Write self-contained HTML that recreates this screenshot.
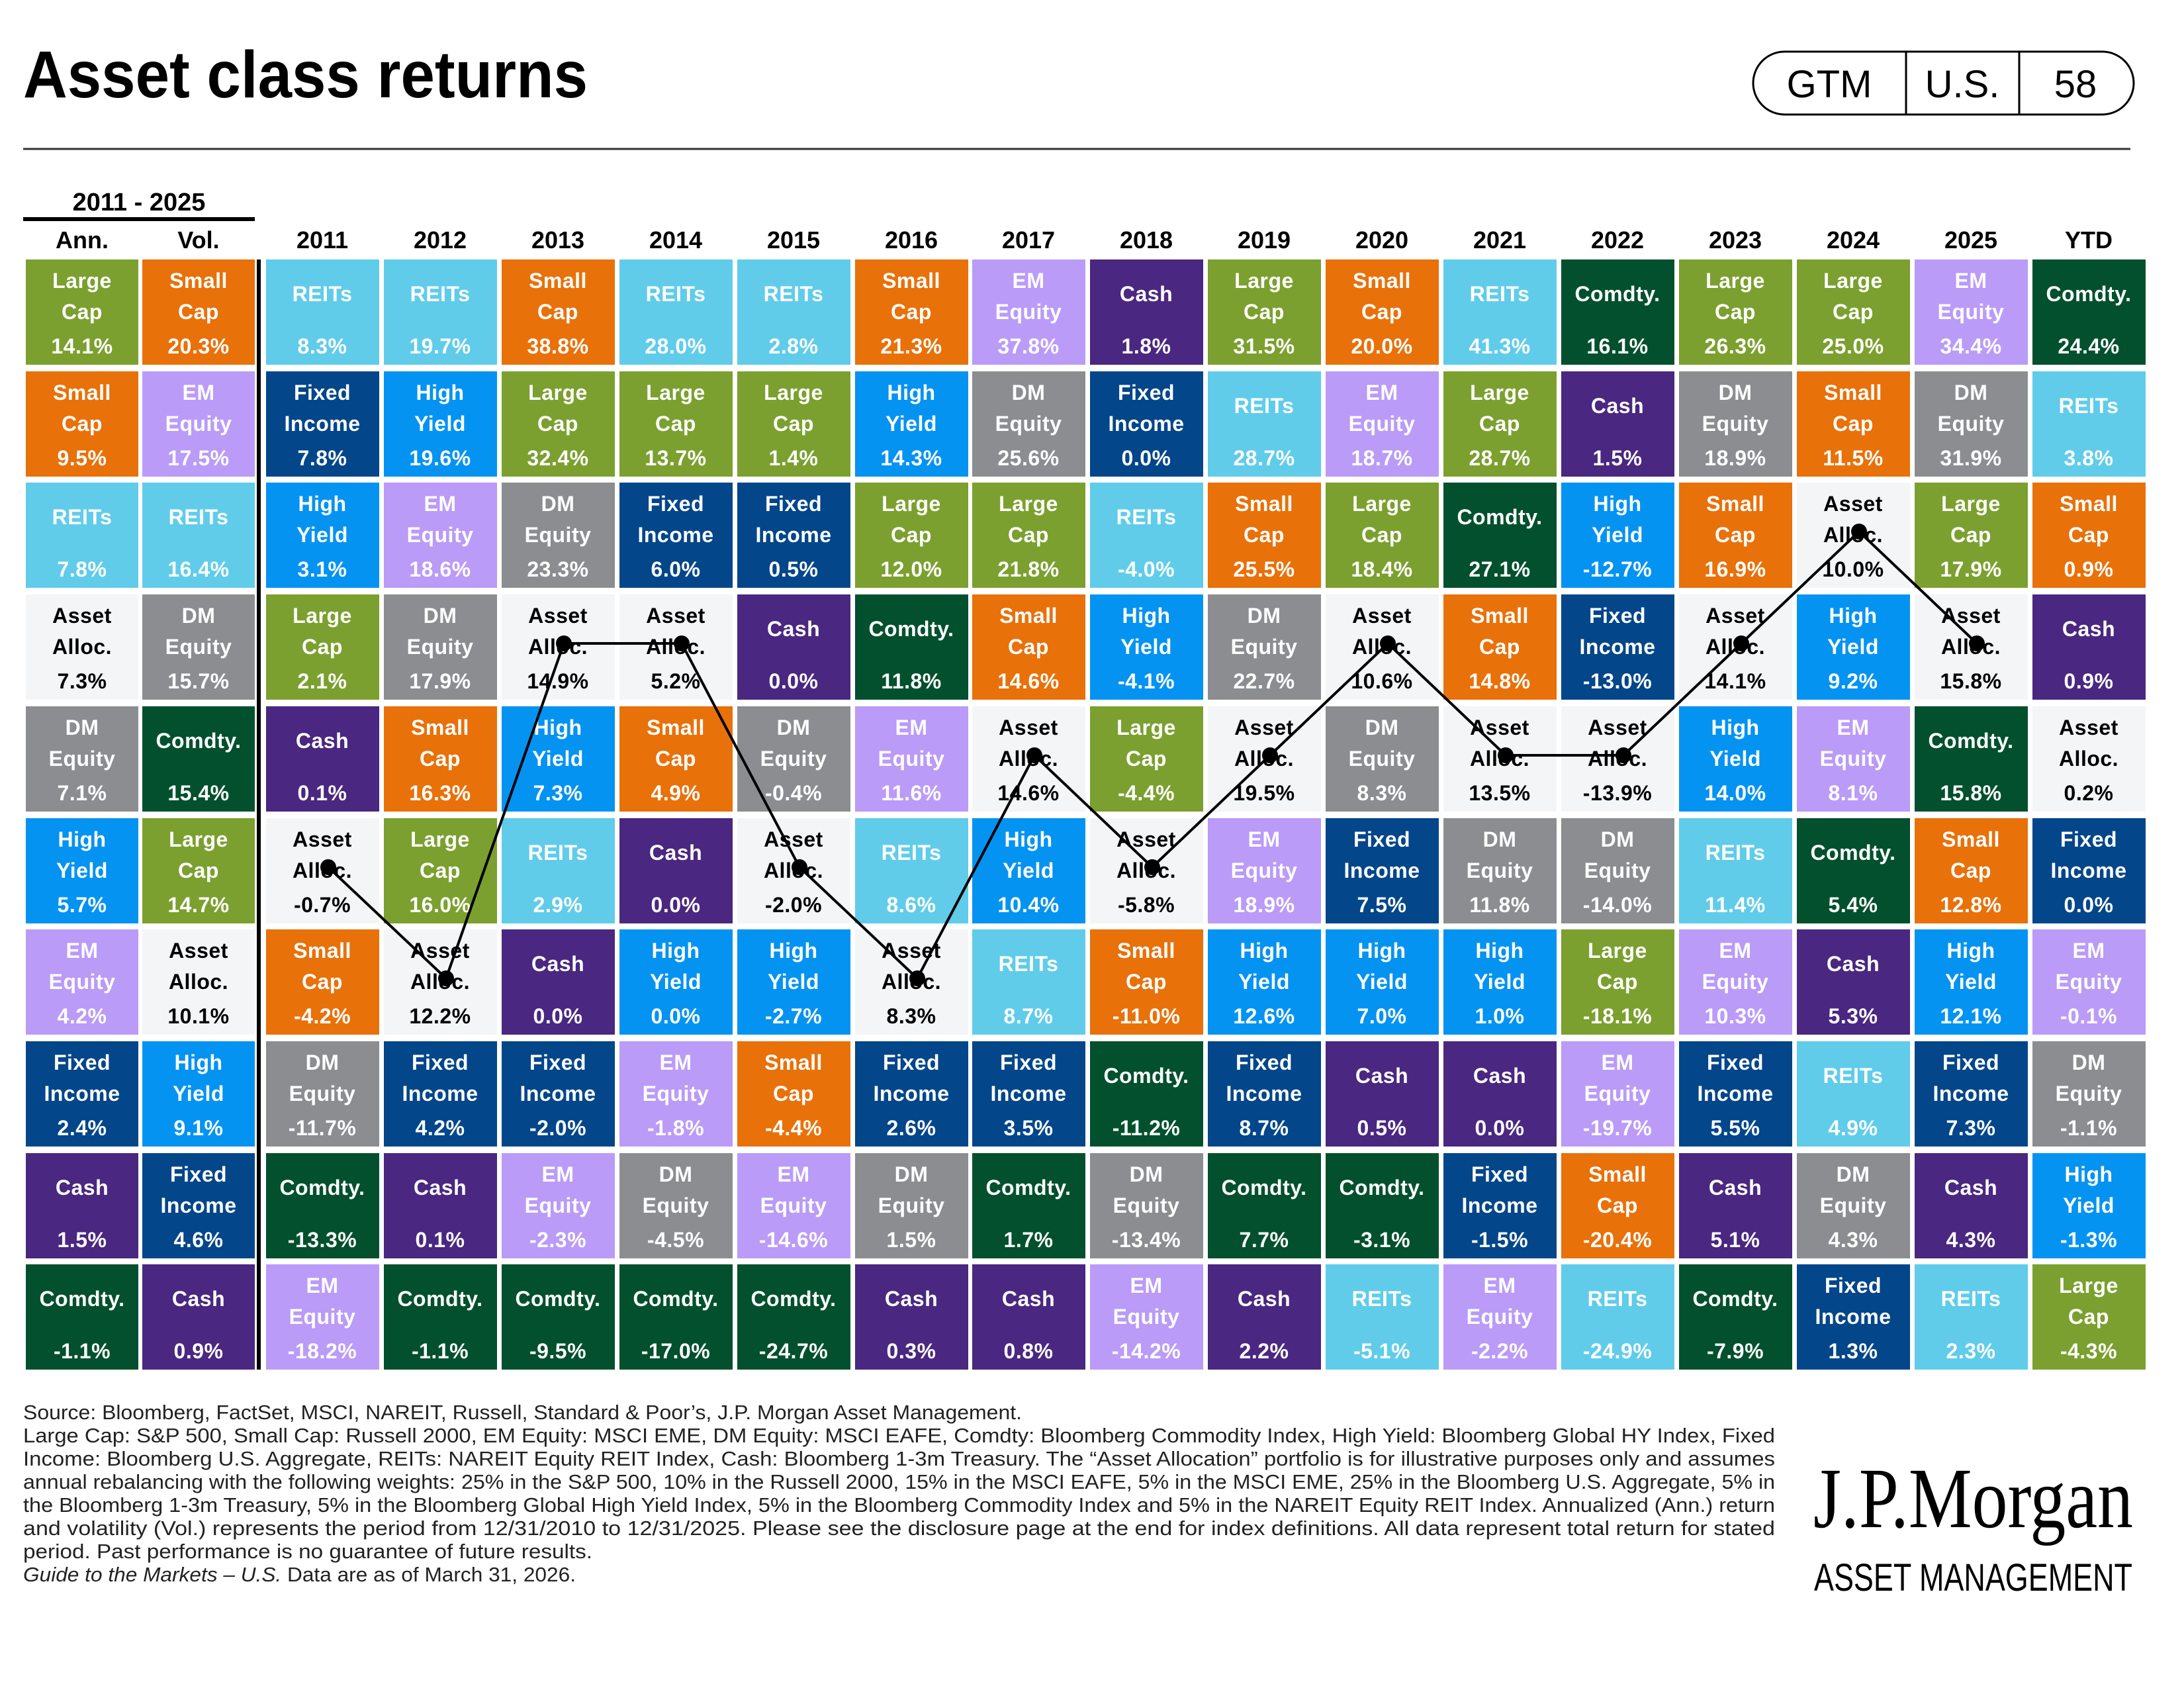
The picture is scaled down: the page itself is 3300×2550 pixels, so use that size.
<!DOCTYPE html>
<html><head><meta charset="utf-8"><style>
html,body{margin:0;padding:0;background:#fff;}
svg{display:block;}
.c text{font-family:"Liberation Sans",Arial,sans-serif;font-weight:bold;font-size:32px;text-anchor:middle;fill:#fff;letter-spacing:0.5px;}
.aa text{fill:#000;}
.lc rect{fill:#7BA02F}.sc rect{fill:#E8710A}.re rect{fill:#60CCEA}.em rect{fill:#BA9BF7}.dm rect{fill:#8B8D90}
.fi rect{fill:#03468A}.hy rect{fill:#0593F2}.ca rect{fill:#4A2780}.co rect{fill:#02502E}.aa rect{fill:#F4F5F7}
.hd{font-family:"Liberation Sans",Arial,sans-serif;font-weight:bold;font-size:36px;text-anchor:middle;fill:#000;}
.fn{font-family:"Liberation Sans",Arial,sans-serif;font-size:31px;fill:#222;}
</style></head><body>
<svg width="3300" height="2550" viewBox="0 0 3300 2550" xmlns="http://www.w3.org/2000/svg">
<rect width="3300" height="2550" fill="#fff"/>
<text x="35" y="147" font-family="Liberation Sans,Arial,sans-serif" font-weight="bold" font-size="100" textLength="853" lengthAdjust="spacingAndGlyphs">Asset class returns</text>
<line x1="35" y1="225" x2="3219" y2="225" stroke="#333" stroke-width="3"/>
<rect x="2649" y="78" width="575" height="95" rx="47.5" fill="none" stroke="#000" stroke-width="3"/>
<line x1="2880" y1="78" x2="2880" y2="173" stroke="#000" stroke-width="3"/>
<line x1="3051" y1="78" x2="3051" y2="173" stroke="#000" stroke-width="3"/>
<g font-family="Liberation Sans,Arial,sans-serif" font-size="58" text-anchor="middle">
<text x="2764" y="147">GTM</text><text x="2965" y="147">U.S.</text><text x="3136" y="147">58</text></g>
<text x="210" y="318" class="hd" style="font-size:38px">2011 - 2025</text>
<rect x="35" y="328" width="350" height="6" fill="#000"/>
<g class="hd">
<text x="124" y="375">Ann.</text><text x="300" y="375">Vol.</text>
<text x="487" y="375">2011</text><text x="665" y="375">2012</text><text x="843" y="375">2013</text><text x="1021" y="375">2014</text>
<text x="1199" y="375">2015</text><text x="1377" y="375">2016</text><text x="1554" y="375">2017</text><text x="1732" y="375">2018</text>
<text x="1910" y="375">2019</text><text x="2088" y="375">2020</text><text x="2266" y="375">2021</text><text x="2444" y="375">2022</text>
<text x="2622" y="375">2023</text><text x="2800" y="375">2024</text><text x="2978" y="375">2025</text><text x="3156" y="375">YTD</text>
</g>
<rect x="388" y="392" width="6" height="1677" fill="#000"/>

<g class="c lc" transform="translate(39,392)"><rect width="170" height="159"/><text x="85" y="43">Large</text><text x="85" y="90">Cap</text><text x="85" y="142">14.1%</text></g>
<g class="c sc" transform="translate(39,561)"><rect width="170" height="159"/><text x="85" y="43">Small</text><text x="85" y="90">Cap</text><text x="85" y="142">9.5%</text></g>
<g class="c re" transform="translate(39,729)"><rect width="170" height="159"/><text x="85" y="63">REITs</text><text x="85" y="142">7.8%</text></g>
<g class="c aa" transform="translate(39,898)"><rect width="170" height="159"/><text x="85" y="43">Asset</text><text x="85" y="90">Alloc.</text><text x="85" y="142">7.3%</text></g>
<g class="c dm" transform="translate(39,1067)"><rect width="170" height="159"/><text x="85" y="43">DM</text><text x="85" y="90">Equity</text><text x="85" y="142">7.1%</text></g>
<g class="c hy" transform="translate(39,1236)"><rect width="170" height="159"/><text x="85" y="43">High</text><text x="85" y="90">Yield</text><text x="85" y="142">5.7%</text></g>
<g class="c em" transform="translate(39,1404)"><rect width="170" height="159"/><text x="85" y="43">EM</text><text x="85" y="90">Equity</text><text x="85" y="142">4.2%</text></g>
<g class="c fi" transform="translate(39,1573)"><rect width="170" height="159"/><text x="85" y="43">Fixed</text><text x="85" y="90">Income</text><text x="85" y="142">2.4%</text></g>
<g class="c ca" transform="translate(39,1742)"><rect width="170" height="159"/><text x="85" y="63">Cash</text><text x="85" y="142">1.5%</text></g>
<g class="c co" transform="translate(39,1910)"><rect width="170" height="159"/><text x="85" y="63">Comdty.</text><text x="85" y="142">-1.1%</text></g>

<g class="c sc" transform="translate(215,392)"><rect width="170" height="159"/><text x="85" y="43">Small</text><text x="85" y="90">Cap</text><text x="85" y="142">20.3%</text></g>
<g class="c em" transform="translate(215,561)"><rect width="170" height="159"/><text x="85" y="43">EM</text><text x="85" y="90">Equity</text><text x="85" y="142">17.5%</text></g>
<g class="c re" transform="translate(215,729)"><rect width="170" height="159"/><text x="85" y="63">REITs</text><text x="85" y="142">16.4%</text></g>
<g class="c dm" transform="translate(215,898)"><rect width="170" height="159"/><text x="85" y="43">DM</text><text x="85" y="90">Equity</text><text x="85" y="142">15.7%</text></g>
<g class="c co" transform="translate(215,1067)"><rect width="170" height="159"/><text x="85" y="63">Comdty.</text><text x="85" y="142">15.4%</text></g>
<g class="c lc" transform="translate(215,1236)"><rect width="170" height="159"/><text x="85" y="43">Large</text><text x="85" y="90">Cap</text><text x="85" y="142">14.7%</text></g>
<g class="c aa" transform="translate(215,1404)"><rect width="170" height="159"/><text x="85" y="43">Asset</text><text x="85" y="90">Alloc.</text><text x="85" y="142">10.1%</text></g>
<g class="c hy" transform="translate(215,1573)"><rect width="170" height="159"/><text x="85" y="43">High</text><text x="85" y="90">Yield</text><text x="85" y="142">9.1%</text></g>
<g class="c fi" transform="translate(215,1742)"><rect width="170" height="159"/><text x="85" y="43">Fixed</text><text x="85" y="90">Income</text><text x="85" y="142">4.6%</text></g>
<g class="c ca" transform="translate(215,1910)"><rect width="170" height="159"/><text x="85" y="63">Cash</text><text x="85" y="142">0.9%</text></g>

<g class="c re" transform="translate(402,392)"><rect width="171" height="159"/><text x="85" y="63">REITs</text><text x="85" y="142">8.3%</text></g>
<g class="c fi" transform="translate(402,561)"><rect width="171" height="159"/><text x="85" y="43">Fixed</text><text x="85" y="90">Income</text><text x="85" y="142">7.8%</text></g>
<g class="c hy" transform="translate(402,729)"><rect width="171" height="159"/><text x="85" y="43">High</text><text x="85" y="90">Yield</text><text x="85" y="142">3.1%</text></g>
<g class="c lc" transform="translate(402,898)"><rect width="171" height="159"/><text x="85" y="43">Large</text><text x="85" y="90">Cap</text><text x="85" y="142">2.1%</text></g>
<g class="c ca" transform="translate(402,1067)"><rect width="171" height="159"/><text x="85" y="63">Cash</text><text x="85" y="142">0.1%</text></g>
<g class="c aa" transform="translate(402,1236)"><rect width="171" height="159"/><text x="85" y="43">Asset</text><text x="85" y="90">Alloc.</text><text x="85" y="142">-0.7%</text></g>
<g class="c sc" transform="translate(402,1404)"><rect width="171" height="159"/><text x="85" y="43">Small</text><text x="85" y="90">Cap</text><text x="85" y="142">-4.2%</text></g>
<g class="c dm" transform="translate(402,1573)"><rect width="171" height="159"/><text x="85" y="43">DM</text><text x="85" y="90">Equity</text><text x="85" y="142">-11.7%</text></g>
<g class="c co" transform="translate(402,1742)"><rect width="171" height="159"/><text x="85" y="63">Comdty.</text><text x="85" y="142">-13.3%</text></g>
<g class="c em" transform="translate(402,1910)"><rect width="171" height="159"/><text x="85" y="43">EM</text><text x="85" y="90">Equity</text><text x="85" y="142">-18.2%</text></g>

<g class="c re" transform="translate(580,392)"><rect width="171" height="159"/><text x="85" y="63">REITs</text><text x="85" y="142">19.7%</text></g>
<g class="c hy" transform="translate(580,561)"><rect width="171" height="159"/><text x="85" y="43">High</text><text x="85" y="90">Yield</text><text x="85" y="142">19.6%</text></g>
<g class="c em" transform="translate(580,729)"><rect width="171" height="159"/><text x="85" y="43">EM</text><text x="85" y="90">Equity</text><text x="85" y="142">18.6%</text></g>
<g class="c dm" transform="translate(580,898)"><rect width="171" height="159"/><text x="85" y="43">DM</text><text x="85" y="90">Equity</text><text x="85" y="142">17.9%</text></g>
<g class="c sc" transform="translate(580,1067)"><rect width="171" height="159"/><text x="85" y="43">Small</text><text x="85" y="90">Cap</text><text x="85" y="142">16.3%</text></g>
<g class="c lc" transform="translate(580,1236)"><rect width="171" height="159"/><text x="85" y="43">Large</text><text x="85" y="90">Cap</text><text x="85" y="142">16.0%</text></g>
<g class="c aa" transform="translate(580,1404)"><rect width="171" height="159"/><text x="85" y="43">Asset</text><text x="85" y="90">Alloc.</text><text x="85" y="142">12.2%</text></g>
<g class="c fi" transform="translate(580,1573)"><rect width="171" height="159"/><text x="85" y="43">Fixed</text><text x="85" y="90">Income</text><text x="85" y="142">4.2%</text></g>
<g class="c ca" transform="translate(580,1742)"><rect width="171" height="159"/><text x="85" y="63">Cash</text><text x="85" y="142">0.1%</text></g>
<g class="c co" transform="translate(580,1910)"><rect width="171" height="159"/><text x="85" y="63">Comdty.</text><text x="85" y="142">-1.1%</text></g>

<g class="c sc" transform="translate(758,392)"><rect width="171" height="159"/><text x="85" y="43">Small</text><text x="85" y="90">Cap</text><text x="85" y="142">38.8%</text></g>
<g class="c lc" transform="translate(758,561)"><rect width="171" height="159"/><text x="85" y="43">Large</text><text x="85" y="90">Cap</text><text x="85" y="142">32.4%</text></g>
<g class="c dm" transform="translate(758,729)"><rect width="171" height="159"/><text x="85" y="43">DM</text><text x="85" y="90">Equity</text><text x="85" y="142">23.3%</text></g>
<g class="c aa" transform="translate(758,898)"><rect width="171" height="159"/><text x="85" y="43">Asset</text><text x="85" y="90">Alloc.</text><text x="85" y="142">14.9%</text></g>
<g class="c hy" transform="translate(758,1067)"><rect width="171" height="159"/><text x="85" y="43">High</text><text x="85" y="90">Yield</text><text x="85" y="142">7.3%</text></g>
<g class="c re" transform="translate(758,1236)"><rect width="171" height="159"/><text x="85" y="63">REITs</text><text x="85" y="142">2.9%</text></g>
<g class="c ca" transform="translate(758,1404)"><rect width="171" height="159"/><text x="85" y="63">Cash</text><text x="85" y="142">0.0%</text></g>
<g class="c fi" transform="translate(758,1573)"><rect width="171" height="159"/><text x="85" y="43">Fixed</text><text x="85" y="90">Income</text><text x="85" y="142">-2.0%</text></g>
<g class="c em" transform="translate(758,1742)"><rect width="171" height="159"/><text x="85" y="43">EM</text><text x="85" y="90">Equity</text><text x="85" y="142">-2.3%</text></g>
<g class="c co" transform="translate(758,1910)"><rect width="171" height="159"/><text x="85" y="63">Comdty.</text><text x="85" y="142">-9.5%</text></g>

<g class="c re" transform="translate(936,392)"><rect width="171" height="159"/><text x="85" y="63">REITs</text><text x="85" y="142">28.0%</text></g>
<g class="c lc" transform="translate(936,561)"><rect width="171" height="159"/><text x="85" y="43">Large</text><text x="85" y="90">Cap</text><text x="85" y="142">13.7%</text></g>
<g class="c fi" transform="translate(936,729)"><rect width="171" height="159"/><text x="85" y="43">Fixed</text><text x="85" y="90">Income</text><text x="85" y="142">6.0%</text></g>
<g class="c aa" transform="translate(936,898)"><rect width="171" height="159"/><text x="85" y="43">Asset</text><text x="85" y="90">Alloc.</text><text x="85" y="142">5.2%</text></g>
<g class="c sc" transform="translate(936,1067)"><rect width="171" height="159"/><text x="85" y="43">Small</text><text x="85" y="90">Cap</text><text x="85" y="142">4.9%</text></g>
<g class="c ca" transform="translate(936,1236)"><rect width="171" height="159"/><text x="85" y="63">Cash</text><text x="85" y="142">0.0%</text></g>
<g class="c hy" transform="translate(936,1404)"><rect width="171" height="159"/><text x="85" y="43">High</text><text x="85" y="90">Yield</text><text x="85" y="142">0.0%</text></g>
<g class="c em" transform="translate(936,1573)"><rect width="171" height="159"/><text x="85" y="43">EM</text><text x="85" y="90">Equity</text><text x="85" y="142">-1.8%</text></g>
<g class="c dm" transform="translate(936,1742)"><rect width="171" height="159"/><text x="85" y="43">DM</text><text x="85" y="90">Equity</text><text x="85" y="142">-4.5%</text></g>
<g class="c co" transform="translate(936,1910)"><rect width="171" height="159"/><text x="85" y="63">Comdty.</text><text x="85" y="142">-17.0%</text></g>

<g class="c re" transform="translate(1114,392)"><rect width="171" height="159"/><text x="85" y="63">REITs</text><text x="85" y="142">2.8%</text></g>
<g class="c lc" transform="translate(1114,561)"><rect width="171" height="159"/><text x="85" y="43">Large</text><text x="85" y="90">Cap</text><text x="85" y="142">1.4%</text></g>
<g class="c fi" transform="translate(1114,729)"><rect width="171" height="159"/><text x="85" y="43">Fixed</text><text x="85" y="90">Income</text><text x="85" y="142">0.5%</text></g>
<g class="c ca" transform="translate(1114,898)"><rect width="171" height="159"/><text x="85" y="63">Cash</text><text x="85" y="142">0.0%</text></g>
<g class="c dm" transform="translate(1114,1067)"><rect width="171" height="159"/><text x="85" y="43">DM</text><text x="85" y="90">Equity</text><text x="85" y="142">-0.4%</text></g>
<g class="c aa" transform="translate(1114,1236)"><rect width="171" height="159"/><text x="85" y="43">Asset</text><text x="85" y="90">Alloc.</text><text x="85" y="142">-2.0%</text></g>
<g class="c hy" transform="translate(1114,1404)"><rect width="171" height="159"/><text x="85" y="43">High</text><text x="85" y="90">Yield</text><text x="85" y="142">-2.7%</text></g>
<g class="c sc" transform="translate(1114,1573)"><rect width="171" height="159"/><text x="85" y="43">Small</text><text x="85" y="90">Cap</text><text x="85" y="142">-4.4%</text></g>
<g class="c em" transform="translate(1114,1742)"><rect width="171" height="159"/><text x="85" y="43">EM</text><text x="85" y="90">Equity</text><text x="85" y="142">-14.6%</text></g>
<g class="c co" transform="translate(1114,1910)"><rect width="171" height="159"/><text x="85" y="63">Comdty.</text><text x="85" y="142">-24.7%</text></g>

<g class="c sc" transform="translate(1292,392)"><rect width="171" height="159"/><text x="85" y="43">Small</text><text x="85" y="90">Cap</text><text x="85" y="142">21.3%</text></g>
<g class="c hy" transform="translate(1292,561)"><rect width="171" height="159"/><text x="85" y="43">High</text><text x="85" y="90">Yield</text><text x="85" y="142">14.3%</text></g>
<g class="c lc" transform="translate(1292,729)"><rect width="171" height="159"/><text x="85" y="43">Large</text><text x="85" y="90">Cap</text><text x="85" y="142">12.0%</text></g>
<g class="c co" transform="translate(1292,898)"><rect width="171" height="159"/><text x="85" y="63">Comdty.</text><text x="85" y="142">11.8%</text></g>
<g class="c em" transform="translate(1292,1067)"><rect width="171" height="159"/><text x="85" y="43">EM</text><text x="85" y="90">Equity</text><text x="85" y="142">11.6%</text></g>
<g class="c re" transform="translate(1292,1236)"><rect width="171" height="159"/><text x="85" y="63">REITs</text><text x="85" y="142">8.6%</text></g>
<g class="c aa" transform="translate(1292,1404)"><rect width="171" height="159"/><text x="85" y="43">Asset</text><text x="85" y="90">Alloc.</text><text x="85" y="142">8.3%</text></g>
<g class="c fi" transform="translate(1292,1573)"><rect width="171" height="159"/><text x="85" y="43">Fixed</text><text x="85" y="90">Income</text><text x="85" y="142">2.6%</text></g>
<g class="c dm" transform="translate(1292,1742)"><rect width="171" height="159"/><text x="85" y="43">DM</text><text x="85" y="90">Equity</text><text x="85" y="142">1.5%</text></g>
<g class="c ca" transform="translate(1292,1910)"><rect width="171" height="159"/><text x="85" y="63">Cash</text><text x="85" y="142">0.3%</text></g>

<g class="c em" transform="translate(1469,392)"><rect width="171" height="159"/><text x="85" y="43">EM</text><text x="85" y="90">Equity</text><text x="85" y="142">37.8%</text></g>
<g class="c dm" transform="translate(1469,561)"><rect width="171" height="159"/><text x="85" y="43">DM</text><text x="85" y="90">Equity</text><text x="85" y="142">25.6%</text></g>
<g class="c lc" transform="translate(1469,729)"><rect width="171" height="159"/><text x="85" y="43">Large</text><text x="85" y="90">Cap</text><text x="85" y="142">21.8%</text></g>
<g class="c sc" transform="translate(1469,898)"><rect width="171" height="159"/><text x="85" y="43">Small</text><text x="85" y="90">Cap</text><text x="85" y="142">14.6%</text></g>
<g class="c aa" transform="translate(1469,1067)"><rect width="171" height="159"/><text x="85" y="43">Asset</text><text x="85" y="90">Alloc.</text><text x="85" y="142">14.6%</text></g>
<g class="c hy" transform="translate(1469,1236)"><rect width="171" height="159"/><text x="85" y="43">High</text><text x="85" y="90">Yield</text><text x="85" y="142">10.4%</text></g>
<g class="c re" transform="translate(1469,1404)"><rect width="171" height="159"/><text x="85" y="63">REITs</text><text x="85" y="142">8.7%</text></g>
<g class="c fi" transform="translate(1469,1573)"><rect width="171" height="159"/><text x="85" y="43">Fixed</text><text x="85" y="90">Income</text><text x="85" y="142">3.5%</text></g>
<g class="c co" transform="translate(1469,1742)"><rect width="171" height="159"/><text x="85" y="63">Comdty.</text><text x="85" y="142">1.7%</text></g>
<g class="c ca" transform="translate(1469,1910)"><rect width="171" height="159"/><text x="85" y="63">Cash</text><text x="85" y="142">0.8%</text></g>

<g class="c ca" transform="translate(1647,392)"><rect width="171" height="159"/><text x="85" y="63">Cash</text><text x="85" y="142">1.8%</text></g>
<g class="c fi" transform="translate(1647,561)"><rect width="171" height="159"/><text x="85" y="43">Fixed</text><text x="85" y="90">Income</text><text x="85" y="142">0.0%</text></g>
<g class="c re" transform="translate(1647,729)"><rect width="171" height="159"/><text x="85" y="63">REITs</text><text x="85" y="142">-4.0%</text></g>
<g class="c hy" transform="translate(1647,898)"><rect width="171" height="159"/><text x="85" y="43">High</text><text x="85" y="90">Yield</text><text x="85" y="142">-4.1%</text></g>
<g class="c lc" transform="translate(1647,1067)"><rect width="171" height="159"/><text x="85" y="43">Large</text><text x="85" y="90">Cap</text><text x="85" y="142">-4.4%</text></g>
<g class="c aa" transform="translate(1647,1236)"><rect width="171" height="159"/><text x="85" y="43">Asset</text><text x="85" y="90">Alloc.</text><text x="85" y="142">-5.8%</text></g>
<g class="c sc" transform="translate(1647,1404)"><rect width="171" height="159"/><text x="85" y="43">Small</text><text x="85" y="90">Cap</text><text x="85" y="142">-11.0%</text></g>
<g class="c co" transform="translate(1647,1573)"><rect width="171" height="159"/><text x="85" y="63">Comdty.</text><text x="85" y="142">-11.2%</text></g>
<g class="c dm" transform="translate(1647,1742)"><rect width="171" height="159"/><text x="85" y="43">DM</text><text x="85" y="90">Equity</text><text x="85" y="142">-13.4%</text></g>
<g class="c em" transform="translate(1647,1910)"><rect width="171" height="159"/><text x="85" y="43">EM</text><text x="85" y="90">Equity</text><text x="85" y="142">-14.2%</text></g>

<g class="c lc" transform="translate(1825,392)"><rect width="171" height="159"/><text x="85" y="43">Large</text><text x="85" y="90">Cap</text><text x="85" y="142">31.5%</text></g>
<g class="c re" transform="translate(1825,561)"><rect width="171" height="159"/><text x="85" y="63">REITs</text><text x="85" y="142">28.7%</text></g>
<g class="c sc" transform="translate(1825,729)"><rect width="171" height="159"/><text x="85" y="43">Small</text><text x="85" y="90">Cap</text><text x="85" y="142">25.5%</text></g>
<g class="c dm" transform="translate(1825,898)"><rect width="171" height="159"/><text x="85" y="43">DM</text><text x="85" y="90">Equity</text><text x="85" y="142">22.7%</text></g>
<g class="c aa" transform="translate(1825,1067)"><rect width="171" height="159"/><text x="85" y="43">Asset</text><text x="85" y="90">Alloc.</text><text x="85" y="142">19.5%</text></g>
<g class="c em" transform="translate(1825,1236)"><rect width="171" height="159"/><text x="85" y="43">EM</text><text x="85" y="90">Equity</text><text x="85" y="142">18.9%</text></g>
<g class="c hy" transform="translate(1825,1404)"><rect width="171" height="159"/><text x="85" y="43">High</text><text x="85" y="90">Yield</text><text x="85" y="142">12.6%</text></g>
<g class="c fi" transform="translate(1825,1573)"><rect width="171" height="159"/><text x="85" y="43">Fixed</text><text x="85" y="90">Income</text><text x="85" y="142">8.7%</text></g>
<g class="c co" transform="translate(1825,1742)"><rect width="171" height="159"/><text x="85" y="63">Comdty.</text><text x="85" y="142">7.7%</text></g>
<g class="c ca" transform="translate(1825,1910)"><rect width="171" height="159"/><text x="85" y="63">Cash</text><text x="85" y="142">2.2%</text></g>

<g class="c sc" transform="translate(2003,392)"><rect width="171" height="159"/><text x="85" y="43">Small</text><text x="85" y="90">Cap</text><text x="85" y="142">20.0%</text></g>
<g class="c em" transform="translate(2003,561)"><rect width="171" height="159"/><text x="85" y="43">EM</text><text x="85" y="90">Equity</text><text x="85" y="142">18.7%</text></g>
<g class="c lc" transform="translate(2003,729)"><rect width="171" height="159"/><text x="85" y="43">Large</text><text x="85" y="90">Cap</text><text x="85" y="142">18.4%</text></g>
<g class="c aa" transform="translate(2003,898)"><rect width="171" height="159"/><text x="85" y="43">Asset</text><text x="85" y="90">Alloc.</text><text x="85" y="142">10.6%</text></g>
<g class="c dm" transform="translate(2003,1067)"><rect width="171" height="159"/><text x="85" y="43">DM</text><text x="85" y="90">Equity</text><text x="85" y="142">8.3%</text></g>
<g class="c fi" transform="translate(2003,1236)"><rect width="171" height="159"/><text x="85" y="43">Fixed</text><text x="85" y="90">Income</text><text x="85" y="142">7.5%</text></g>
<g class="c hy" transform="translate(2003,1404)"><rect width="171" height="159"/><text x="85" y="43">High</text><text x="85" y="90">Yield</text><text x="85" y="142">7.0%</text></g>
<g class="c ca" transform="translate(2003,1573)"><rect width="171" height="159"/><text x="85" y="63">Cash</text><text x="85" y="142">0.5%</text></g>
<g class="c co" transform="translate(2003,1742)"><rect width="171" height="159"/><text x="85" y="63">Comdty.</text><text x="85" y="142">-3.1%</text></g>
<g class="c re" transform="translate(2003,1910)"><rect width="171" height="159"/><text x="85" y="63">REITs</text><text x="85" y="142">-5.1%</text></g>

<g class="c re" transform="translate(2181,392)"><rect width="171" height="159"/><text x="85" y="63">REITs</text><text x="85" y="142">41.3%</text></g>
<g class="c lc" transform="translate(2181,561)"><rect width="171" height="159"/><text x="85" y="43">Large</text><text x="85" y="90">Cap</text><text x="85" y="142">28.7%</text></g>
<g class="c co" transform="translate(2181,729)"><rect width="171" height="159"/><text x="85" y="63">Comdty.</text><text x="85" y="142">27.1%</text></g>
<g class="c sc" transform="translate(2181,898)"><rect width="171" height="159"/><text x="85" y="43">Small</text><text x="85" y="90">Cap</text><text x="85" y="142">14.8%</text></g>
<g class="c aa" transform="translate(2181,1067)"><rect width="171" height="159"/><text x="85" y="43">Asset</text><text x="85" y="90">Alloc.</text><text x="85" y="142">13.5%</text></g>
<g class="c dm" transform="translate(2181,1236)"><rect width="171" height="159"/><text x="85" y="43">DM</text><text x="85" y="90">Equity</text><text x="85" y="142">11.8%</text></g>
<g class="c hy" transform="translate(2181,1404)"><rect width="171" height="159"/><text x="85" y="43">High</text><text x="85" y="90">Yield</text><text x="85" y="142">1.0%</text></g>
<g class="c ca" transform="translate(2181,1573)"><rect width="171" height="159"/><text x="85" y="63">Cash</text><text x="85" y="142">0.0%</text></g>
<g class="c fi" transform="translate(2181,1742)"><rect width="171" height="159"/><text x="85" y="43">Fixed</text><text x="85" y="90">Income</text><text x="85" y="142">-1.5%</text></g>
<g class="c em" transform="translate(2181,1910)"><rect width="171" height="159"/><text x="85" y="43">EM</text><text x="85" y="90">Equity</text><text x="85" y="142">-2.2%</text></g>

<g class="c co" transform="translate(2359,392)"><rect width="171" height="159"/><text x="85" y="63">Comdty.</text><text x="85" y="142">16.1%</text></g>
<g class="c ca" transform="translate(2359,561)"><rect width="171" height="159"/><text x="85" y="63">Cash</text><text x="85" y="142">1.5%</text></g>
<g class="c hy" transform="translate(2359,729)"><rect width="171" height="159"/><text x="85" y="43">High</text><text x="85" y="90">Yield</text><text x="85" y="142">-12.7%</text></g>
<g class="c fi" transform="translate(2359,898)"><rect width="171" height="159"/><text x="85" y="43">Fixed</text><text x="85" y="90">Income</text><text x="85" y="142">-13.0%</text></g>
<g class="c aa" transform="translate(2359,1067)"><rect width="171" height="159"/><text x="85" y="43">Asset</text><text x="85" y="90">Alloc.</text><text x="85" y="142">-13.9%</text></g>
<g class="c dm" transform="translate(2359,1236)"><rect width="171" height="159"/><text x="85" y="43">DM</text><text x="85" y="90">Equity</text><text x="85" y="142">-14.0%</text></g>
<g class="c lc" transform="translate(2359,1404)"><rect width="171" height="159"/><text x="85" y="43">Large</text><text x="85" y="90">Cap</text><text x="85" y="142">-18.1%</text></g>
<g class="c em" transform="translate(2359,1573)"><rect width="171" height="159"/><text x="85" y="43">EM</text><text x="85" y="90">Equity</text><text x="85" y="142">-19.7%</text></g>
<g class="c sc" transform="translate(2359,1742)"><rect width="171" height="159"/><text x="85" y="43">Small</text><text x="85" y="90">Cap</text><text x="85" y="142">-20.4%</text></g>
<g class="c re" transform="translate(2359,1910)"><rect width="171" height="159"/><text x="85" y="63">REITs</text><text x="85" y="142">-24.9%</text></g>

<g class="c lc" transform="translate(2537,392)"><rect width="171" height="159"/><text x="85" y="43">Large</text><text x="85" y="90">Cap</text><text x="85" y="142">26.3%</text></g>
<g class="c dm" transform="translate(2537,561)"><rect width="171" height="159"/><text x="85" y="43">DM</text><text x="85" y="90">Equity</text><text x="85" y="142">18.9%</text></g>
<g class="c sc" transform="translate(2537,729)"><rect width="171" height="159"/><text x="85" y="43">Small</text><text x="85" y="90">Cap</text><text x="85" y="142">16.9%</text></g>
<g class="c aa" transform="translate(2537,898)"><rect width="171" height="159"/><text x="85" y="43">Asset</text><text x="85" y="90">Alloc.</text><text x="85" y="142">14.1%</text></g>
<g class="c hy" transform="translate(2537,1067)"><rect width="171" height="159"/><text x="85" y="43">High</text><text x="85" y="90">Yield</text><text x="85" y="142">14.0%</text></g>
<g class="c re" transform="translate(2537,1236)"><rect width="171" height="159"/><text x="85" y="63">REITs</text><text x="85" y="142">11.4%</text></g>
<g class="c em" transform="translate(2537,1404)"><rect width="171" height="159"/><text x="85" y="43">EM</text><text x="85" y="90">Equity</text><text x="85" y="142">10.3%</text></g>
<g class="c fi" transform="translate(2537,1573)"><rect width="171" height="159"/><text x="85" y="43">Fixed</text><text x="85" y="90">Income</text><text x="85" y="142">5.5%</text></g>
<g class="c ca" transform="translate(2537,1742)"><rect width="171" height="159"/><text x="85" y="63">Cash</text><text x="85" y="142">5.1%</text></g>
<g class="c co" transform="translate(2537,1910)"><rect width="171" height="159"/><text x="85" y="63">Comdty.</text><text x="85" y="142">-7.9%</text></g>

<g class="c lc" transform="translate(2715,392)"><rect width="171" height="159"/><text x="85" y="43">Large</text><text x="85" y="90">Cap</text><text x="85" y="142">25.0%</text></g>
<g class="c sc" transform="translate(2715,561)"><rect width="171" height="159"/><text x="85" y="43">Small</text><text x="85" y="90">Cap</text><text x="85" y="142">11.5%</text></g>
<g class="c aa" transform="translate(2715,729)"><rect width="171" height="159"/><text x="85" y="43">Asset</text><text x="85" y="90">Alloc.</text><text x="85" y="142">10.0%</text></g>
<g class="c hy" transform="translate(2715,898)"><rect width="171" height="159"/><text x="85" y="43">High</text><text x="85" y="90">Yield</text><text x="85" y="142">9.2%</text></g>
<g class="c em" transform="translate(2715,1067)"><rect width="171" height="159"/><text x="85" y="43">EM</text><text x="85" y="90">Equity</text><text x="85" y="142">8.1%</text></g>
<g class="c co" transform="translate(2715,1236)"><rect width="171" height="159"/><text x="85" y="63">Comdty.</text><text x="85" y="142">5.4%</text></g>
<g class="c ca" transform="translate(2715,1404)"><rect width="171" height="159"/><text x="85" y="63">Cash</text><text x="85" y="142">5.3%</text></g>
<g class="c re" transform="translate(2715,1573)"><rect width="171" height="159"/><text x="85" y="63">REITs</text><text x="85" y="142">4.9%</text></g>
<g class="c dm" transform="translate(2715,1742)"><rect width="171" height="159"/><text x="85" y="43">DM</text><text x="85" y="90">Equity</text><text x="85" y="142">4.3%</text></g>
<g class="c fi" transform="translate(2715,1910)"><rect width="171" height="159"/><text x="85" y="43">Fixed</text><text x="85" y="90">Income</text><text x="85" y="142">1.3%</text></g>

<g class="c em" transform="translate(2893,392)"><rect width="171" height="159"/><text x="85" y="43">EM</text><text x="85" y="90">Equity</text><text x="85" y="142">34.4%</text></g>
<g class="c dm" transform="translate(2893,561)"><rect width="171" height="159"/><text x="85" y="43">DM</text><text x="85" y="90">Equity</text><text x="85" y="142">31.9%</text></g>
<g class="c lc" transform="translate(2893,729)"><rect width="171" height="159"/><text x="85" y="43">Large</text><text x="85" y="90">Cap</text><text x="85" y="142">17.9%</text></g>
<g class="c aa" transform="translate(2893,898)"><rect width="171" height="159"/><text x="85" y="43">Asset</text><text x="85" y="90">Alloc.</text><text x="85" y="142">15.8%</text></g>
<g class="c co" transform="translate(2893,1067)"><rect width="171" height="159"/><text x="85" y="63">Comdty.</text><text x="85" y="142">15.8%</text></g>
<g class="c sc" transform="translate(2893,1236)"><rect width="171" height="159"/><text x="85" y="43">Small</text><text x="85" y="90">Cap</text><text x="85" y="142">12.8%</text></g>
<g class="c hy" transform="translate(2893,1404)"><rect width="171" height="159"/><text x="85" y="43">High</text><text x="85" y="90">Yield</text><text x="85" y="142">12.1%</text></g>
<g class="c fi" transform="translate(2893,1573)"><rect width="171" height="159"/><text x="85" y="43">Fixed</text><text x="85" y="90">Income</text><text x="85" y="142">7.3%</text></g>
<g class="c ca" transform="translate(2893,1742)"><rect width="171" height="159"/><text x="85" y="63">Cash</text><text x="85" y="142">4.3%</text></g>
<g class="c re" transform="translate(2893,1910)"><rect width="171" height="159"/><text x="85" y="63">REITs</text><text x="85" y="142">2.3%</text></g>

<g class="c co" transform="translate(3071,392)"><rect width="171" height="159"/><text x="85" y="63">Comdty.</text><text x="85" y="142">24.4%</text></g>
<g class="c re" transform="translate(3071,561)"><rect width="171" height="159"/><text x="85" y="63">REITs</text><text x="85" y="142">3.8%</text></g>
<g class="c sc" transform="translate(3071,729)"><rect width="171" height="159"/><text x="85" y="43">Small</text><text x="85" y="90">Cap</text><text x="85" y="142">0.9%</text></g>
<g class="c ca" transform="translate(3071,898)"><rect width="171" height="159"/><text x="85" y="63">Cash</text><text x="85" y="142">0.9%</text></g>
<g class="c aa" transform="translate(3071,1067)"><rect width="171" height="159"/><text x="85" y="43">Asset</text><text x="85" y="90">Alloc.</text><text x="85" y="142">0.2%</text></g>
<g class="c fi" transform="translate(3071,1236)"><rect width="171" height="159"/><text x="85" y="43">Fixed</text><text x="85" y="90">Income</text><text x="85" y="142">0.0%</text></g>
<g class="c em" transform="translate(3071,1404)"><rect width="171" height="159"/><text x="85" y="43">EM</text><text x="85" y="90">Equity</text><text x="85" y="142">-0.1%</text></g>
<g class="c dm" transform="translate(3071,1573)"><rect width="171" height="159"/><text x="85" y="43">DM</text><text x="85" y="90">Equity</text><text x="85" y="142">-1.1%</text></g>
<g class="c hy" transform="translate(3071,1742)"><rect width="171" height="159"/><text x="85" y="43">High</text><text x="85" y="90">Yield</text><text x="85" y="142">-1.3%</text></g>
<g class="c lc" transform="translate(3071,1910)"><rect width="171" height="159"/><text x="85" y="43">Large</text><text x="85" y="90">Cap</text><text x="85" y="142">-4.3%</text></g>

<polyline fill="none" stroke="#000" stroke-width="4" points="496,1310 674,1478 852,972 1030,972 1208,1310 1386,1478 1563,1141 1741,1310 1919,1141 2097,972 2275,1141 2453,1141 2631,972 2809,803 2987,972"/>
<g fill="#000">
<circle cx="496" cy="1310" r="12"/><circle cx="674" cy="1478" r="12"/><circle cx="852" cy="972" r="12"/><circle cx="1030" cy="972" r="12"/>
<circle cx="1208" cy="1310" r="12"/><circle cx="1386" cy="1478" r="12"/><circle cx="1563" cy="1141" r="12"/><circle cx="1741" cy="1310" r="12"/>
<circle cx="1919" cy="1141" r="12"/><circle cx="2097" cy="972" r="12"/><circle cx="2275" cy="1141" r="12"/><circle cx="2453" cy="1141" r="12"/>
<circle cx="2631" cy="972" r="12"/><circle cx="2809" cy="803" r="12"/><circle cx="2987" cy="972" r="12"/>
</g>

<g class="fn">
<text x="35" y="2144" textLength="1509" lengthAdjust="spacingAndGlyphs">Source: Bloomberg, FactSet, MSCI, NAREIT, Russell, Standard &amp; Poor’s, J.P. Morgan Asset Management.</text>
<text x="35" y="2179" textLength="2647" lengthAdjust="spacingAndGlyphs">Large Cap: S&amp;P 500, Small Cap: Russell 2000, EM Equity: MSCI EME, DM Equity: MSCI EAFE, Comdty: Bloomberg Commodity Index, High Yield: Bloomberg Global HY Index, Fixed</text>
<text x="35" y="2214" textLength="2647" lengthAdjust="spacingAndGlyphs">Income: Bloomberg U.S. Aggregate, REITs: NAREIT Equity REIT Index, Cash: Bloomberg 1-3m Treasury. The “Asset Allocation” portfolio is for illustrative purposes only and assumes</text>
<text x="35" y="2249" textLength="2647" lengthAdjust="spacingAndGlyphs">annual rebalancing with the following weights: 25% in the S&amp;P 500, 10% in the Russell 2000, 15% in the MSCI EAFE, 5% in the MSCI EME, 25% in the Bloomberg U.S. Aggregate, 5% in</text>
<text x="35" y="2284" textLength="2647" lengthAdjust="spacingAndGlyphs">the Bloomberg 1-3m Treasury, 5% in the Bloomberg Global High Yield Index, 5% in the Bloomberg Commodity Index and 5% in the NAREIT Equity REIT Index. Annualized (Ann.) return</text>
<text x="35" y="2319" textLength="2647" lengthAdjust="spacingAndGlyphs">and volatility (Vol.) represents the period from 12/31/2010 to 12/31/2025. Please see the disclosure page at the end for index definitions. All data represent total return for stated</text>
<text x="35" y="2354" textLength="860" lengthAdjust="spacingAndGlyphs">period. Past performance is no guarantee of future results.</text>
<text x="35" y="2389" textLength="835" lengthAdjust="spacingAndGlyphs"><tspan font-style="italic">Guide to the Markets – U.S.</tspan> Data are as of March 31, 2026.</text>
</g>

<text x="2740" y="2307" font-family="Liberation Serif,serif" font-size="130" textLength="483" lengthAdjust="spacingAndGlyphs">J.P.Morgan</text>
<text x="2741" y="2403" font-family="Liberation Sans,Arial,sans-serif" font-size="58" textLength="481" lengthAdjust="spacingAndGlyphs">ASSET MANAGEMENT</text>
</svg>
</body></html>
